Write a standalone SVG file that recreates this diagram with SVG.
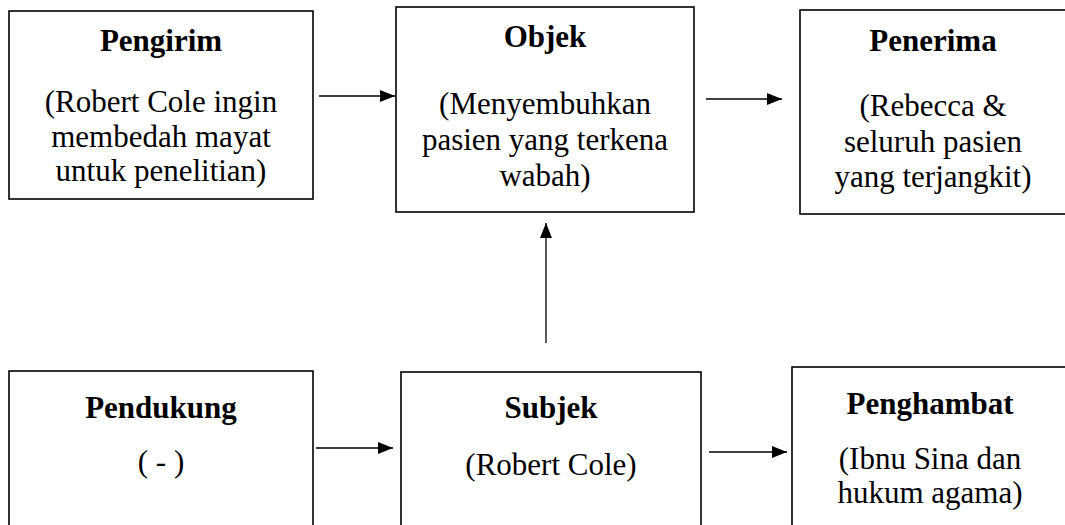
<svg xmlns="http://www.w3.org/2000/svg" width="1065" height="525" viewBox="0 0 1065 525">
<style>
.box{fill:#fff;stroke:#000;stroke-width:1.6}
text{font-family:'Liberation Serif','Times New Roman','DejaVu Serif',serif;font-size:31px;fill:#000;text-anchor:middle}
.b{font-weight:bold}
.c{stroke:#000;stroke-width:1.3;fill:none}
</style>
<defs>
<marker id="ah" markerWidth="15" markerHeight="12" refX="15" refY="6" orient="auto" markerUnits="userSpaceOnUse">
<path d="M0,0 L15,6 L0,12 Z" fill="#000"/>
</marker>
</defs>
<rect width="1065" height="525" fill="#fff"/>
<g id="pengirim">
<rect class="box" x="9" y="11" width="304" height="188"/>
<text class="b" x="161" y="51">Pengirim</text>
<text x="161" y="112">(Robert Cole ingin</text>
<text x="161" y="147">membedah mayat</text>
<text x="161" y="181">untuk penelitian)</text>
</g>
<g id="objek">
<rect class="box" x="396" y="7" width="298" height="205"/>
<text class="b" x="545" y="47">Objek</text>
<text x="545" y="114">(Menyembuhkan</text>
<text x="545" y="150">pasien yang terkena</text>
<text x="545" y="186">wabah)</text>
</g>
<g id="penerima">
<rect class="box" x="800" y="10" width="270" height="204"/>
<text class="b" x="933" y="51">Penerima</text>
<text x="933" y="116">(Rebecca &amp;</text>
<text x="933" y="152">seluruh pasien</text>
<text x="933" y="187">yang terjangkit)</text>
</g>
<g id="pendukung">
<rect class="box" x="9" y="371" width="304" height="170"/>
<text class="b" x="161" y="418">Pendukung</text>
<text x="161" y="472">( - )</text>
</g>
<g id="subjek">
<rect class="box" x="401" y="372" width="300" height="170"/>
<text class="b" x="551" y="418">Subjek</text>
<text x="551" y="475">(Robert Cole)</text>
</g>
<g id="penghambat">
<rect class="box" x="792" y="367" width="280" height="175"/>
<text class="b" x="930" y="414">Penghambat</text>
<text x="930" y="469">(Ibnu Sina dan</text>
<text x="930" y="503">hukum agama)</text>
</g>
<g id="connectors">
<line class="c" x1="319" y1="96" x2="395" y2="96" marker-end="url(#ah)"/>
<line class="c" x1="706" y1="99" x2="782" y2="99" marker-end="url(#ah)"/>
<line class="c" x1="546" y1="343" x2="546" y2="223" marker-end="url(#ah)"/>
<line class="c" x1="316" y1="448" x2="393" y2="448" marker-end="url(#ah)"/>
<line class="c" x1="709" y1="452" x2="787" y2="452" marker-end="url(#ah)"/>
</g>
</svg>
